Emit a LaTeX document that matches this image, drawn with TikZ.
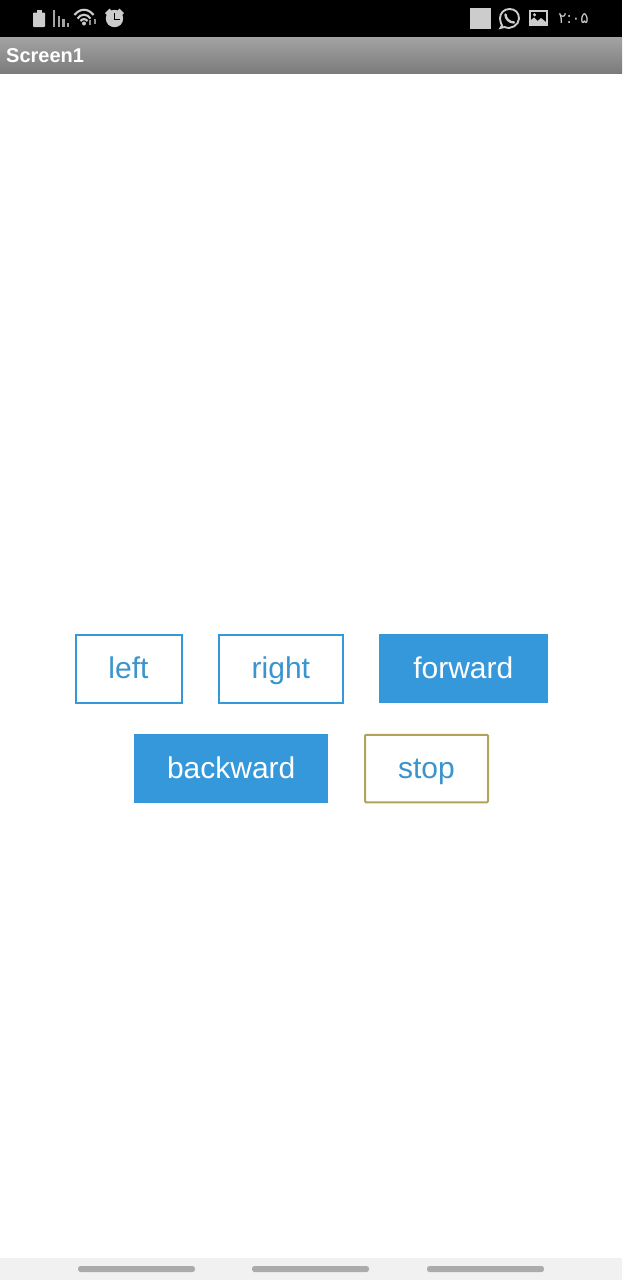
\documentclass[tikz,border=0pt]{standalone}
\usepackage{fontspec}
\setmainfont{Liberation Sans}
\newfontfamily\digitfont{DejaVu Sans}
\definecolor{btnblue}{HTML}{3498DB}
\definecolor{btntext}{HTML}{3A94CE}
\definecolor{stopedge}{HTML}{B0A35A}
\definecolor{icongray}{HTML}{CCCCCC}
\definecolor{navbg}{HTML}{F1F1F1}
\definecolor{navbar}{HTML}{ABABAB}
\tikzset{
  x=1pt,y=-1pt,
  btnbase/.style={anchor=center,inner sep=0pt,font=\fontsize{30}{30}\selectfont,text height=24pt,text depth=4pt},
  outlinebtn/.style={btnbase,draw=btnblue,line width=2pt,fill=white,text=btntext},
  solidbtn/.style={btnbase,fill=btnblue,text=white},
  stopbtn/.style={btnbase,draw=stopedge,line width=2pt,fill=white,text=btntext,rounded corners=1pt},
  ico/.style={fill=icongray,draw=none},
  icoline/.style={draw=icongray,line width=1.8pt},
  navpill/.style={fill=navbar,draw=none,rounded corners=2.5pt},
}
\begin{document}
\begin{tikzpicture}
\useasboundingbox (0,0) rectangle (622,1280);
\fill[white] (0,0) rectangle (622,1280);
% status bar
\fill[black] (0,0) rectangle (622,37);
\shade[top color=black!36,bottom color=black!52,draw=none] (0,37) rectangle (622,73.8);
\node[anchor=west,inner sep=0pt,text=white,font=\bfseries\fontsize{20}{20}\selectfont] (title) at (6,55.5) {Screen1};
% battery
\fill[ico,rounded corners=0.8pt] (33,12.5) rectangle (45,27);
\fill[ico] (36.5,9.5) rectangle (41.5,13);
% signal
\fill[icongray!80!black] (52.5,9.5) rectangle (55,27);
\fill[icongray!80!black] (57.5,15.5) rectangle (60,27);
\fill[icongray!80!black] (62,19) rectangle (64.5,27);
\fill[icongray!80!black] (66.5,23) rectangle (69,27);
% wifi
\draw[icoline,line width=2.1pt] (74.5,15) .. controls (80,8) and (88,8) .. (93.5,15);
\draw[icoline,line width=2.1pt] (77.5,18.5) .. controls (81,13.5) and (87,13.5) .. (90.5,18.5);
\draw[icoline,line width=2.1pt] (80.5,21) .. controls (82.5,18.5) and (85.5,18.5) .. (87.5,21);
\fill[ico] (84,23.5) circle (2);
\draw[icongray!70!black,line width=1.3pt] (90,20) -- (90,25);
\draw[icongray!70!black,line width=1.3pt] (95,19) -- (95,24);
% alarm clock
\fill[ico] (114.5,18.5) circle (8.7);
\draw[draw=black,line width=1.6pt] (114.5,13) -- (114.5,19.5) -- (120,19.5);
\fill[ico] (105,13) -- (109.5,8.5) -- (111.5,10.5) -- (107,15) -- cycle;
\fill[ico] (124,13) -- (119.5,8.5) -- (117.5,10.5) -- (122,15) -- cycle;
% square
\fill[icongray] (470,8) rectangle (491,29);
% whatsapp
\draw[icoline,line width=1.9pt] (502,25.5) -- (500.5,28) -- (504.5,27) .. controls (511,30) and (519,25) .. (519,18.5) .. controls (519,12.5) and (515,9) .. (509.5,9) .. controls (504,9) and (500,13) .. (500,18.5) .. controls (500,21) and (501,23.5) .. (502,25.5) -- cycle;
\draw[icoline,line width=2.4pt,line cap=round] (505.5,14.5) .. controls (505.5,18.5) and (509,22.5) .. (514,22.5);
% image
\draw[icoline,line width=1.8pt] (530,11) rectangle (547,25);
\fill[ico] (531,24) -- (531,20) -- (534,17.5) -- (537.5,21) -- (541,18) -- (546,22) -- (546,24) -- cycle;
\fill[ico] (534.5,14.8) circle (1.7);
% clock
\node[anchor=center,inner sep=0pt,text=icongray,font=\digitfont\fontsize{15.5}{15.5}\selectfont] (clock) at (573.5,18.5) {۲:۰۵};
% buttons
\node[outlinebtn,minimum width=106pt,minimum height=67.2pt] (left) at (128.5,668.9) {left};
\node[outlinebtn,minimum width=123.8pt,minimum height=67.2pt] (right) at (280.9,668.9) {right};
\node[solidbtn,minimum width=168.5pt,minimum height=69pt] (forward) at (463.3,668.7) {forward};
\node[solidbtn,minimum width=194.5pt,minimum height=69pt] (backward) at (231.2,768.3) {backward};
\node[stopbtn,minimum width=123pt,minimum height=67.5pt] (stop) at (426.5,768.5) {stop};
% nav bar
\fill[navbg] (0,1258) rectangle (622,1280);
\fill[navpill] (78,1266) rectangle (195,1272);
\fill[navpill] (252,1266) rectangle (369,1272);
\fill[navpill] (427,1266) rectangle (544,1272);
\end{tikzpicture}
\end{document}
